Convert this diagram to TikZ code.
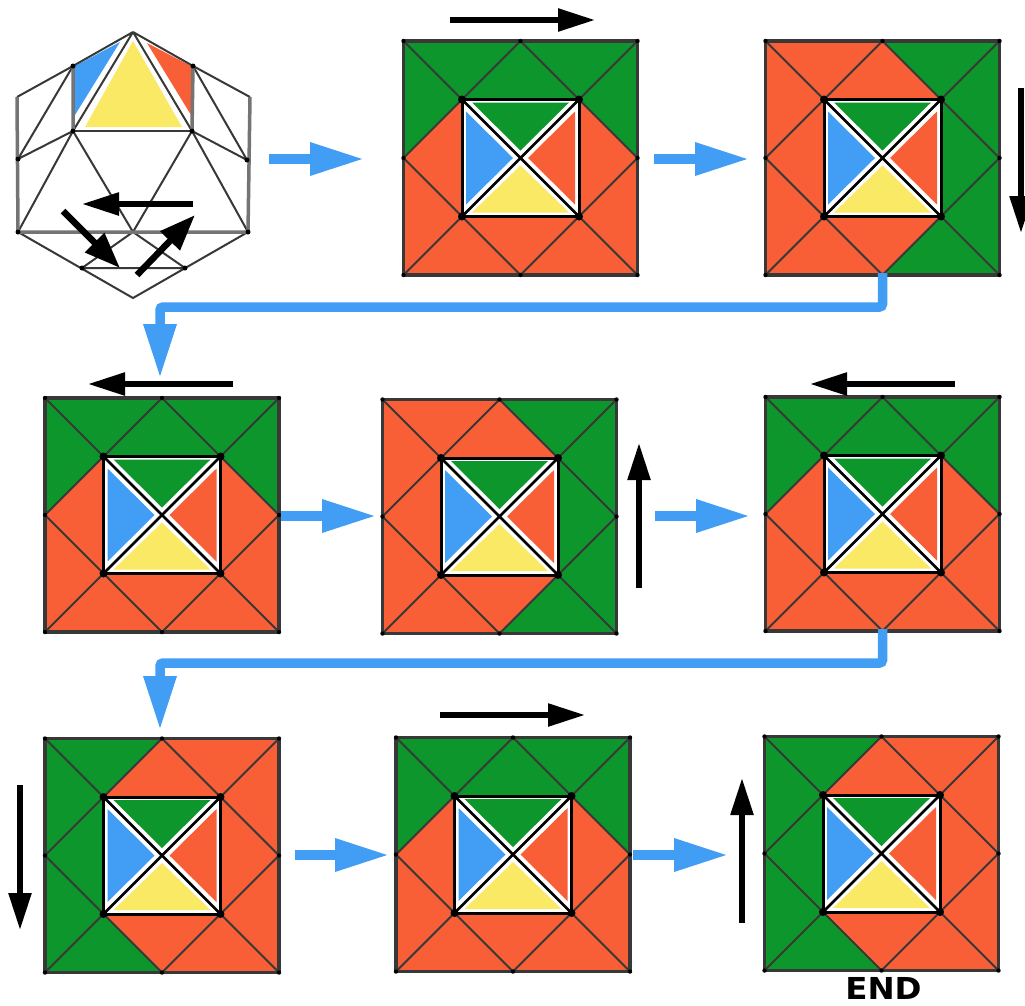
\documentclass[tikz,border=0pt]{standalone}
\usepackage{fontspec}
\setmainfont{DejaVu Sans}
\usetikzlibrary{arrows.meta}
\definecolor{gr}{HTML}{0D962B}
\definecolor{og}{HTML}{F95F36}
\definecolor{bl}{HTML}{429DF5}
\definecolor{ye}{HTML}{FAE965}
\definecolor{ln}{HTML}{383838}
\definecolor{fl}{HTML}{429DF5}
\tikzset{
  sqbox/.style={minimum size=234pt,inner sep=0pt,outer sep=0pt},
  thin line/.style={draw=ln,line width=1.9pt},
  edge line/.style={draw=ln,line width=3.2pt,line join=round},
  inner line/.style={draw=black,line width=3pt},
  flow/.style={draw=fl,line width=9.5pt,-{Triangle[length=54pt,width=31pt]}},
  move/.style={draw=black,line width=5.5pt,-{Triangle[length=37pt,width=22pt]}},
  movebig/.style={draw=black,line width=6.5pt,-{Triangle[length=36pt,width=26pt]}},
  poly/.style={draw=ln,line width=2pt},
  polyheavy/.style={draw=ln!70,line width=3.5pt},
}
% green regions, in the square's own coordinates
\def\patTop{(0,0)--(234,0)--(234,117)--(175.5,58.5)--(58.5,58.5)--(0,117)--cycle}
\def\patRight{(117,0)--(234,0)--(234,234)--(117,234)--(175.5,175.5)--(175.5,58.5)--cycle}
\def\patLeft{(0,0)--(117,0)--(58.5,58.5)--(58.5,175.5)--(117,234)--(0,234)--cycle}
% #1 name, #2 left, #3 top, #4 pattern
\newcommand{\puzzle}[4]{%
  \node[sqbox] (#1) at (#2+117,#3+117) {};
  \begin{scope}[shift={(#2,#3)}]
    \fill[og] (0,0) rectangle (234,234);
    \fill[gr] #4;
    \draw[thin line] (117,0)--(234,117)--(117,234)--(0,117)--cycle;
    \draw[thin line] (0,0)--(58.5,58.5) (234,0)--(175.5,58.5) (0,234)--(58.5,175.5) (234,234)--(175.5,175.5);
    \draw[edge line] (0,0) rectangle (234,234);
    \begin{scope}[shift={(58.5,58.5)}]
      \fill[white] (0,0) rectangle (117,117);
      \fill[gr] (10,3)--(107,3)--(58.5,51)--cycle;
      \fill[bl] (4,12)--(4,105)--(51,58.5)--cycle;
      \fill[og] (113,12)--(113,105)--(66,58.5)--cycle;
      \fill[ye] (10,113)--(107,113)--(58.5,66)--cycle;
      \draw[white,line width=6pt] (3,3)--(114,114) (114,3)--(3,114);
      \draw[black,line width=2.6pt] (0,0)--(117,117) (117,0)--(0,117);
      \draw[inner line] (0,0) rectangle (117,117);
      \foreach \p in {(0,0),(117,0),(0,117),(117,117)} \fill[black] \p circle (4);
    \end{scope}
    \foreach \p in {(117,0),(234,117),(117,234),(0,117),(0,0),(234,0),(0,234),(234,234)} \fill[black] \p circle (2.2);
  \end{scope}}
\begin{document}
\begin{tikzpicture}[x=1pt,y=-1pt]
\useasboundingbox (0,0) rectangle (1025,1005);
\fill[white] (0,0) rectangle (1025,1005);

% polyhedron
\coordinate (ap) at (133,32);
\coordinate (ul) at (73,66);
\coordinate (ur) at (193,66);
\coordinate (ol) at (17,97);
\coordinate (or) at (250,97);
\coordinate (ml) at (18,159);
\coordinate (mr) at (247,160);
\coordinate (il) at (73,131);
\coordinate (ir) at (192,131);
\coordinate (bl) at (18,232);
\coordinate (br) at (248,232);
\coordinate (ce) at (133,232);
\coordinate (bo) at (133,298);
\coordinate (ll) at (82,268);
\coordinate (lr) at (185,268);
\fill[bl] (75,66)--(120,42)--(75,115)--cycle;
\fill[og] (147,43)--(191,66)--(191,115)--cycle;
\fill[ye] (133,41)--(182,127)--(85,127)--cycle;
\draw[poly] (ap)--(ul)--(ol) (ap)--(ur)--(or) (ap)--(il) (ap)--(ir);
\draw[poly] (ul)--(ml) (ur)--(mr) (il)--(ml) (ir)--(mr) (il)--(bl) (ir)--(br);
\draw[poly] (il)--(ce) (ir)--(ce) (bl)--(bo)--(br) (ce)--(ll) (ce)--(lr) (ll)--(lr);
\draw[polyheavy] (ol)--(bl)--(br)--(or);
\draw[polyheavy] (ul)--(il) (ur)--(ir);
\draw[draw=ln,line width=2.8pt] (il)--(ir);
\foreach \p in {il,ir,ul,ur,ml,mr,bl,br,ll,lr}\fill[black] (\p) circle (2.5);
\coordinate (h1a) at (193,204); \coordinate (h1b) at (82,204);
\coordinate (h2a) at (63,211); \coordinate (h2b) at (120,268);
\coordinate (h3a) at (137,275); \coordinate (h3b) at (195,215);
\draw[move] (h1a)--(h1b);
\draw[movebig] (h2a)--(h2b);
\draw[movebig] (h3a)--(h3b);

% squares
\puzzle{A}{403.5}{41}{\patTop}
\puzzle{B}{765.5}{41}{\patRight}
\puzzle{C}{45}{398}{\patTop}
\puzzle{D}{382.5}{399.5}{\patRight}
\puzzle{E}{765.5}{397}{\patTop}
\puzzle{F}{45}{738.5}{\patLeft}
\puzzle{G}{396}{737.5}{\patTop}
\puzzle{H}{764.5}{736.5}{\patLeft}

% black move arrows
\coordinate (ma1) at (450,20);  \coordinate (ma2) at (595,20);
\coordinate (mb1) at (1021,88); \coordinate (mb2) at (1021,233);
\coordinate (mc1) at (233,384); \coordinate (mc2) at (88,384);
\coordinate (md1) at (639,588); \coordinate (md2) at (639,443);
\coordinate (me1) at (955,384); \coordinate (me2) at (810,384);
\coordinate (mf1) at (20,785);  \coordinate (mf2) at (20,930);
\coordinate (mg1) at (440,715); \coordinate (mg2) at (585,715);
\coordinate (mh1) at (742,923); \coordinate (mh2) at (742,778);
\draw[move] (ma1)--(ma2);
\draw[move] (mb1)--(mb2);
\draw[move] (mc1)--(mc2);
\draw[move] (md1)--(md2);
\draw[move] (me1)--(me2);
\draw[move] (mf1)--(mf2);
\draw[move] (mg1)--(mg2);
\draw[move] (mh1)--(mh2);

% blue flow arrows
\coordinate (f1a) at (269,159); \coordinate (f1b) at (364,159);
\coordinate (f2a) at (654,159); \coordinate (f2b) at (749,159);
\coordinate (f3a) at (281,516); \coordinate (f3b) at (376,516);
\coordinate (f4a) at (655,516); \coordinate (f4b) at (750,516);
\coordinate (f5a) at (295,855); \coordinate (f5b) at (389,855);
\coordinate (f6a) at (633,855); \coordinate (f6b) at (728,855);
\draw[flow] (f1a)--(f1b);
\draw[flow] (f2a)--(f2b);
\draw[flow] (f3a)--(f3b);
\draw[flow] (f4a)--(f4b);
\draw[flow] (f5a)--(f5b);
\draw[flow] (f6a)--(f6b);
\coordinate (t1) at (160,378);
\coordinate (t2) at (160,730);
\draw[flow,rounded corners=3pt] ([yshift=2pt]B.south) -- (B.south |- 0,307) -- (160,307) -- (t1);
\draw[flow,rounded corners=3pt] ([yshift=2pt]E.south) -- (E.south |- 0,663) -- (160,663) -- (t2);

\node[font=\bfseries\fontsize{28pt}{28pt}\selectfont,inner sep=0pt,xscale=1.16,yscale=1.08] (endlabel) at (883.5,988) {END};
\end{tikzpicture}
\end{document}
